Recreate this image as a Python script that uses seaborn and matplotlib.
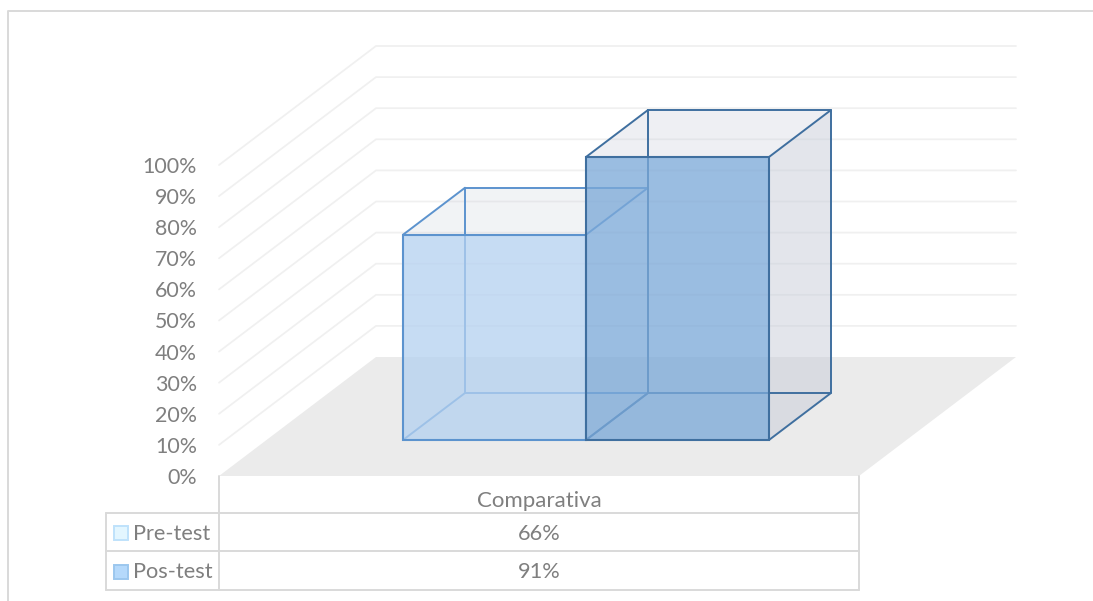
import matplotlib
matplotlib.use("Agg")
import matplotlib.pyplot as plt
from matplotlib.patches import Polygon, Rectangle
import pandas as pd
import seaborn as sns

# Chart values
category = "Comparativa"
series_names = ["Pre-test", "Pos-test"]
series_values = [66, 91]
axis_ticks = list(range(0, 101, 10))

# Canvas and fake-3D geometry, in pixels
W, H = 1093, 601
PX_PER_PCT = 3.11
FLOOR_FRONT_Y, FLOOR_BACK_Y = 476, 357
FLOOR_LEFT, FLOOR_RIGHT = 219, 859
FLOOR_SHIFT = 157
BAR_BASE_Y = 440
BAR_DX, BAR_DY = 62, 47
BAR_CENTER_X = 586
CAT_WIDTH_PX = FLOOR_RIGHT - FLOOR_LEFT

GRID = "#f0f0f0"
TABLE = "#d9d9d9"
TEXT = "#7f7f7f"
FLOOR = "#ebebeb"
FONT_SIZE = 15.7
TICK_FONT_SIZE = 15.4

front_rgb = [(180 / 255, 209 / 255, 240 / 255), (124 / 255, 169 / 255, 216 / 255)]
front_alpha = [0.75, 0.77]
edge_colors = ["#5c93ce", "#3f6f9f"]
side_rgb = (200 / 255, 205 / 255, 217 / 255)
top_alpha = [0.24, 0.30]
side_alpha = [0.50, 0.50]
key_fill = ["#e3f6ff", "#b5d9fb"]
key_edge = ["#bfe2fb", "#9cc7ee"]

sns.set_theme(style="white")
plt.rcParams["font.family"] = ["Lato", "DejaVu Sans"]
fig = plt.figure(figsize=(W / 100, H / 100), dpi=100, facecolor="white")

# Background layer in pixel coordinates: frame, floor, walls, table
bg = fig.add_axes([0, 0, 1, 1], zorder=0)
bg.set_xlim(0, W)
bg.set_ylim(H, 0)
bg.axis("off")

bg.plot([8, 8, W], [H, 11, 11], color=TABLE, lw=1.4, solid_capstyle="butt")

bg.add_patch(Polygon(
    [(FLOOR_LEFT, FLOOR_FRONT_Y), (FLOOR_RIGHT, FLOOR_FRONT_Y),
     (FLOOR_RIGHT + FLOOR_SHIFT, FLOOR_BACK_Y), (FLOOR_LEFT + FLOOR_SHIFT, FLOOR_BACK_Y)],
    closed=True, fc=FLOOR, ec="none"))

for t in axis_ticks:
    rise = t * PX_PER_PCT
    if t > 0:
        bg.plot([FLOOR_LEFT, FLOOR_LEFT + FLOOR_SHIFT, FLOOR_RIGHT + FLOOR_SHIFT],
                [FLOOR_FRONT_Y - rise, FLOOR_BACK_Y - rise, FLOOR_BACK_Y - rise],
                color=GRID, lw=1.25, solid_joinstyle="miter")
    bg.text(197, FLOOR_FRONT_Y - rise + 2, f"{t}%", ha="right", va="center",
            fontsize=TICK_FONT_SIZE, color=TEXT)

# Data table beneath the floor
row_y = [513, 551, 590]
for y in row_y:
    bg.plot([106, FLOOR_RIGHT], [y, y], color=TABLE, lw=1.4)
bg.plot([106, 106], [row_y[0], row_y[-1]], color=TABLE, lw=1.4)
for x in (FLOOR_LEFT, FLOOR_RIGHT):
    bg.plot([x, x], [FLOOR_FRONT_Y, row_y[-1]], color=TABLE, lw=1.4)

table_cx = (FLOOR_LEFT + FLOOR_RIGHT) / 2
bg.text(table_cx, 501, category, ha="center", va="center", fontsize=16, color=TEXT)
for i, (name, val) in enumerate(zip(series_names, series_values)):
    cy = (row_y[i] + row_y[i + 1]) / 2 + 2
    bg.add_patch(Rectangle((114, cy - 8), 14, 14, fc=key_fill[i], ec=key_edge[i], lw=1.4))
    bg.text(133, cy, name, ha="left", va="center", fontsize=FONT_SIZE, color=TEXT)
    bg.text(table_cx, cy, f"{val}%", ha="center", va="center", fontsize=FONT_SIZE, color=TEXT)

# Bar layer: one unit of x spans the category, one unit of y is a percentage point
ax = fig.add_axes([0, 0, 1, 1], zorder=1)
ax.patch.set_alpha(0)
df = pd.DataFrame({"categoria": [category] * len(series_names),
                   "serie": series_names, "valor": series_values})
sns.barplot(data=df, x="categoria", y="valor", hue="serie", hue_order=series_names,
            palette=front_rgb, width=2 * 183 / CAT_WIDTH_PX, gap=0, saturation=1,
            legend=False, ax=ax)
ax.set_xlim(-BAR_CENTER_X / CAT_WIDTH_PX, (W - BAR_CENTER_X) / CAT_WIDTH_PX)
ax.set_ylim((BAR_BASE_Y - H) / PX_PER_PCT, BAR_BASE_Y / PX_PER_PCT)
ax.axis("off")

dx = BAR_DX / CAT_WIDTH_PX
dy = BAR_DY / PX_PER_PCT

for i, bar in enumerate(ax.patches):
    z = 2 + 2 * i
    x0, x1 = bar.get_x(), bar.get_x() + bar.get_width()
    top = bar.get_height()
    ec = edge_colors[i]

    # Faces behind the front plane
    ax.add_patch(Polygon([(x0, top), (x1, top), (x1 + dx, top + dy), (x0 + dx, top + dy)],
                         closed=True, fc=(*side_rgb, top_alpha[i]), ec="none", zorder=z))
    if i == len(series_values) - 1:
        ax.add_patch(Polygon([(x1, 0), (x1 + dx, dy), (x1 + dx, top + dy), (x1, top)],
                             closed=True, fc=(*side_rgb, side_alpha[i]), ec="none", zorder=z))

    # Box edges that recede from the front plane
    edge_kw = dict(color=ec, lw=1.4, zorder=z, solid_capstyle="round")
    ax.plot([x0 + dx, x1 + dx, x1 + dx, x0 + dx, x0 + dx],
            [top + dy, top + dy, dy, dy, top + dy], **edge_kw)
    for xc in (x0, x1):
        ax.plot([xc, xc + dx], [top, top + dy], **edge_kw)
        ax.plot([xc, xc + dx], [0, dy], **edge_kw)

    # Front face comes from the seaborn bar itself
    bar.set_facecolor((*front_rgb[i], front_alpha[i]))
    bar.set_edgecolor(ec)
    bar.set_linewidth(1.5)
    bar.set_zorder(z + 1)

fig.savefig("out.png", dpi=100)
